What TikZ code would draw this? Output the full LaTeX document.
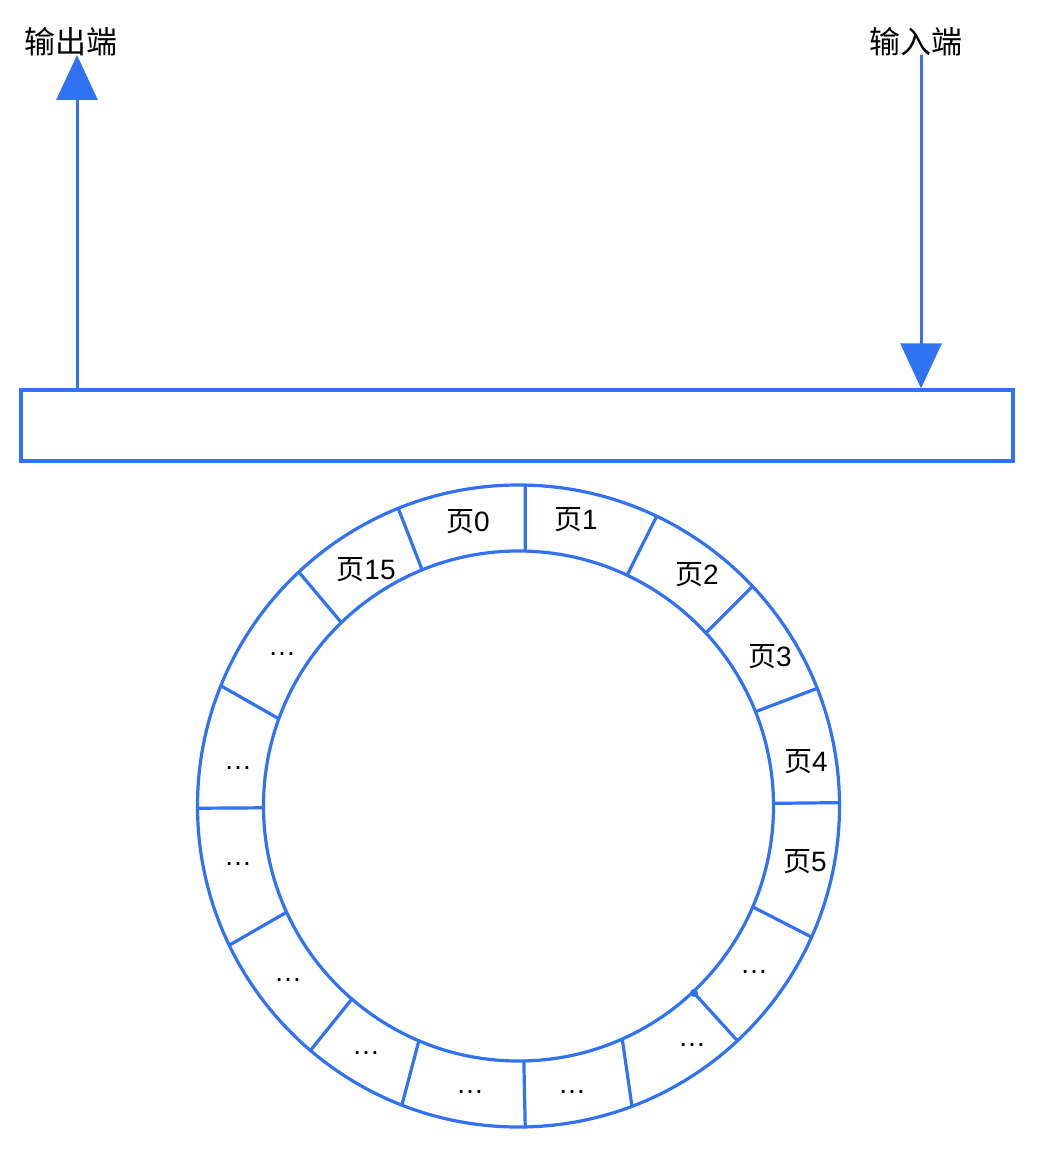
\documentclass[tikz,border=0pt]{standalone}
\usepackage{fontspec}
\setmainfont{Liberation Sans}
\newfontfamily\cjkfont{Noto Sans CJK SC}
\newcommand{\hz}[1]{{\cjkfont #1}}
\usetikzlibrary{arrows.meta,positioning}
\definecolor{lanse}{RGB}{49,114,242}
\tikzset{
  kuang/.style={draw=lanse,line width=1.6pt,minimum width=496pt,minimum height=35.5pt,inner sep=0pt},
  huan/.style={draw=lanse,line width=1.6pt},
  jiantou/.style={draw=lanse,line width=1.5pt,-{Triangle[length=22.5pt,width=20.5pt]}},
  duan/.style={font=\cjkfont\fontsize{15.5pt}{18pt}\selectfont,inner sep=0pt},
  ye/.style={font=\fontsize{14pt}{16pt}\selectfont,inner sep=0pt},
}
\begin{document}
\begin{tikzpicture}[x=0.5pt,y=-0.5pt]
  \useasboundingbox (0,0) rectangle (1038,1154);
  % buffer and ends
  \node[kuang] (huancun) at (517,425.5) {};
  \node[duan] (shuchu) at (71,42) {输出端};
  \node[duan] (shuru) at (916,42) {输入端};
  \coordinate (chu) at (77,55);
  \coordinate (ru) at (921,55);
  \draw[jiantou] (huancun.north -| chu) -- (chu);
  \draw[jiantou] (ru) -- (huancun.north -| ru);
  % ring of pages
  \coordinate (zx) at (518.5,806);
  \draw[huan] (zx) circle[radius=160.5pt];
  \draw[huan] (zx) circle[radius=127.5pt];
  \foreach \a/\b in {0.6/0.6,21.7/21.5,42.7/43.2,64.8/64.5,88.5/88.8,112.2/112,134/133.2,
      160/158,180.4/180.4,204.6/205.7,229.2/229.6,247/248.7,271.2/271.2,294/290.7,
      313.2/313,336.7/335.9}
    \draw[huan] ([shift={(\a:127.5pt)}]zx) -- ([shift={(\b:160.5pt)}]zx);
  \fill[lanse] (694,993) circle[radius=2pt];
  \foreach \t/\x/\y [count=\k from 0] in {\hz{页}0/468/522,\hz{页}1/576/520,\hz{页}2/697/575,
      \hz{页}3/770/657,\hz{页}4/806/762,\hz{页}5/805/862,…/754/972,…/692/1045,…/572/1092,
      …/470/1092,…/366/1053,…/288/980,…/238/864,…/238/768,…/282/654,\hz{页}15/366/570}
    \node[ye] (ye\k) at (\x,\y) {\t};
\end{tikzpicture}
\end{document}
